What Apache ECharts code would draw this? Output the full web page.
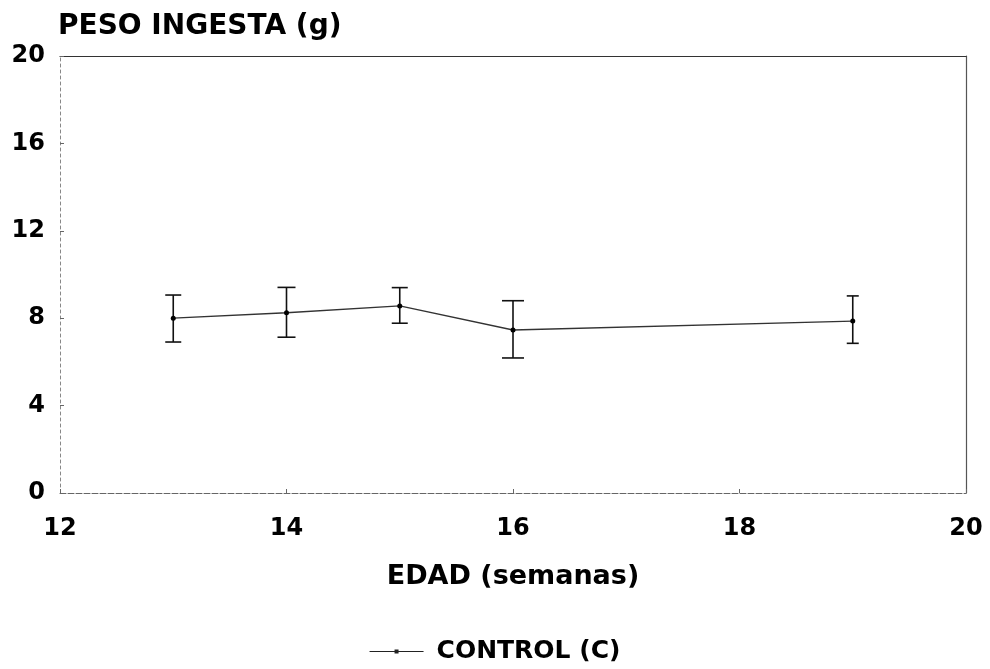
<!DOCTYPE html>
<html><head><meta charset="utf-8">
<script src="https://cdn.jsdelivr.net/npm/echarts@6/dist/echarts.min.js"></script>
<style>html,body{margin:0;padding:0;background:#fff}#c{width:990px;height:669px}</style>
</head><body><div id="c"></div>
<script>
const weeks = [13, 14, 15, 16, 19];
const means = [8.0, 8.25, 8.56, 7.46, 7.87];
const upper = [9.06, 9.41, 9.40, 8.80, 9.02];
const lower = [6.91, 7.13, 7.77, 6.18, 6.85];
const capHalf = [8, 9, 8, 11, 6];
const xTicks = [12, 14, 16, 18, 20];
const yTicks = [0, 4, 8, 12, 16, 20];
const seriesName = 'CONTROL (C)';

const chart = echarts.init(document.getElementById('c'));
const font = 'DejaVu Sans, sans-serif';
chart.setOption({
  animation: false,
  backgroundColor: '#fff',
  title: {text: 'PESO INGESTA (g)', left: 53, top: 8,
    textStyle: {fontFamily: font, fontSize: 28, fontWeight: 'bold', color: '#000'}},
  grid: {left: 60, right: 24, top: 56, bottom: 176, show: false},
  legend: {bottom: 0, left: 'center', itemWidth: 54, itemHeight: 4, itemGap: 10,
    data: [{name: seriesName, icon: 'path://M0,1.4H54V2.6H0Z M25,0H29V4H25Z'}],
    itemStyle: {color: '#222'},
    textStyle: {fontFamily: font, fontSize: 25, fontWeight: 'bold', color: '#000', padding: [0, 0, 0, 8]}},
  xAxis: [{type: 'value', min: xTicks[0], max: xTicks[xTicks.length-1], interval: 2,
    name: 'EDAD (semanas)', nameLocation: 'middle', nameGap: 70,
    nameTextStyle: {fontFamily: font, fontSize: 27, fontWeight: 'bold', color: '#000'},
    axisLine: {onZero: false, lineStyle: {color: '#666', type: [6, 2]}},
    axisTick: {inside: true, length: 4, lineStyle: {color: '#666'}},
    axisLabel: {fontFamily: font, fontSize: 24, fontWeight: 'bold', color: '#000', margin: 24},
    splitLine: {show: false}},
   {type: 'value', position: 'top', min: 12, max: 20,
    axisLine: {show: true, onZero: false, lineStyle: {color: '#333', width: 1.2}},
    axisTick: {show: false}, axisLabel: {show: false}, splitLine: {show: false}}],
  yAxis: [{type: 'value', min: yTicks[0], max: yTicks[yTicks.length-1], interval: 4,
    axisLine: {show: true, onZero: false, lineStyle: {color: '#888', type: [3, 3]}},
    axisTick: {show: true, inside: true, length: 4, lineStyle: {color: '#666'}},
    axisLabel: {fontFamily: font, fontSize: 24, fontWeight: 'bold', color: '#000', margin: 15},
    splitLine: {show: false}},
   {type: 'value', position: 'right', min: 0, max: 20,
    axisLine: {show: true, onZero: false, lineStyle: {color: '#555', width: 1.2}},
    axisTick: {show: false}, axisLabel: {show: false}, splitLine: {show: false}}],
  series: [
    {name: seriesName, type: 'line', data: weeks.map((w, i) => [w, means[i]]),
      symbol: 'circle', symbolSize: 5, itemStyle: {color: '#000'},
      lineStyle: {color: '#333', width: 1.3}, z: 3},
    {type: 'custom', name: 'err', data: weeks.map((w, i) => [w, lower[i], upper[i], capHalf[i]]),
      renderItem: function (params, api) {
        const x = api.value(0);
        const lo = api.coord([x, api.value(1)]);
        const hi = api.coord([x, api.value(2)]);
        const h = api.value(3);
        const st = {stroke: '#111', lineWidth: 1.6};
        return {type: 'group', children: [
          {type: 'line', shape: {x1: lo[0], y1: lo[1], x2: hi[0], y2: hi[1]}, style: st},
          {type: 'line', shape: {x1: hi[0]-h, y1: hi[1], x2: hi[0]+h, y2: hi[1]}, style: st},
          {type: 'line', shape: {x1: lo[0]-h, y1: lo[1], x2: lo[0]+h, y2: lo[1]}, style: st}
        ]};
      }, z: 2}
  ]
});
</script></body></html>
